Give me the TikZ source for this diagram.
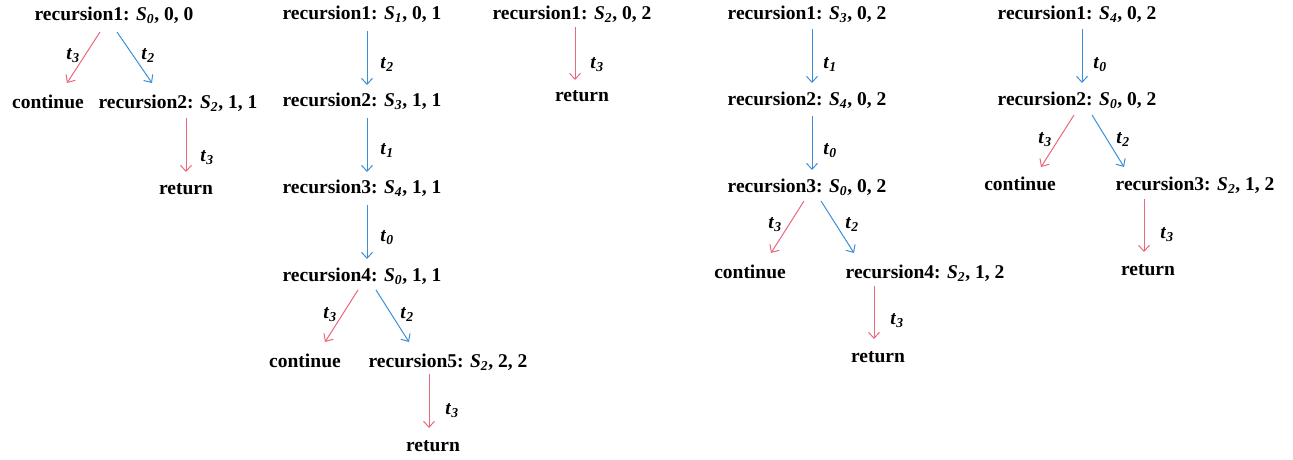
\documentclass[tikz,border=0pt]{standalone}
\usepackage{fontspec}
\setmainfont{Liberation Serif}
\usetikzlibrary{arrows.meta}
\definecolor{arrred}{RGB}{232,104,124}
\definecolor{arrblue}{RGB}{60,143,214}
\newcommand\Sv[1]{\textbf{\textit{S}\textsubscript{\textbf{\textit{#1}}}}}
\newcommand\tv[1]{\textbf{\textit{t}\textsubscript{\textbf{\textit{#1}}}}}
\newcommand\recn[4]{\textbf{recursion#1: }\Sv{#2}\textbf{, #3, #4}}
\begin{document}
\begin{tikzpicture}[x=1pt,y=-1pt,
  every node/.style={inner sep=0pt, font=\fontsize{19.5}{23}\selectfont\bfseries, text height=13pt, text depth=0pt, anchor=center},
  lab/.style={},
  redarr/.style={draw=arrred, line width=1pt, -{Straight Barb[length=6pt,width=11pt]}},
  bluearr/.style={draw=arrblue, line width=1pt, -{Straight Barb[length=6pt,width=11pt]}}]
\useasboundingbox (0,0) rectangle (1293,460);
% Tree 1
\node (A1) at (114,14) {\recn{1}{0}{0}{0}};
\node (A2) at (48,102) {continue};
\node (A3) at (178,102) {\recn{2}{2}{1}{1}};
\node (A4) at (186,188) {return};
\draw[redarr] ([shift={(-14,18)}]A1.center) -- ([shift={(19,-19)}]A2.center);
\draw[bluearr] ([shift={(3,18)}]A1.center) -- ([shift={(-26,-19)}]A3.center);
\draw[redarr] ([shift={(8,16)}]A3.center) -- ([shift={(0,-16)}]A4.center);
\node[lab] (A1l) at (73,53) {\tv{3}};
\node[lab] (A2l) at (148,53) {\tv{2}};
\node[lab] (A3l) at (207,155) {\tv{3}};
% Tree 2
\node (B1) at (362,13) {\recn{1}{1}{0}{1}};
\node (B2) at (362,100) {\recn{2}{3}{1}{1}};
\node (B3) at (362,187) {\recn{3}{4}{1}{1}};
\node (B4) at (362,275) {\recn{4}{0}{1}{1}};
\node (B5) at (305,361) {continue};
\node (B6) at (448,361) {\recn{5}{2}{2}{2}};
\node (B7) at (433,445) {return};
\draw[bluearr] ([shift={(5,18)}]B1.center) -- ([shift={(5,-15)}]B2.center);
\draw[bluearr] ([shift={(5,18)}]B2.center) -- ([shift={(5,-15)}]B3.center);
\draw[bluearr] ([shift={(5,18)}]B3.center) -- ([shift={(5,-16)}]B4.center);
\draw[redarr] ([shift={(-4,15)}]B4.center) -- ([shift={(20,-19)}]B5.center);
\draw[bluearr] ([shift={(14,15)}]B4.center) -- ([shift={(-39,-19)}]B6.center);
\draw[redarr] ([shift={(-19,13)}]B6.center) -- ([shift={(-4,-17)}]B7.center);
\node[lab] (B1l) at (387,62) {\tv{2}};
\node[lab] (B2l) at (387,148) {\tv{1}};
\node[lab] (B3l) at (387,235) {\tv{0}};
\node[lab] (B4l) at (330,312) {\tv{3}};
\node[lab] (B5l) at (407,312) {\tv{2}};
\node[lab] (B6l) at (452,408) {\tv{3}};
% Tree 3
\node (C1) at (572,13) {\recn{1}{2}{0}{2}};
\node (C2) at (582,95) {return};
\draw[redarr] ([shift={(3,14)}]C1.center) -- ([shift={(-7,-15)}]C2.center);
\node[lab] (C1l) at (597,62) {\tv{3}};
% Tree 4
\node (D1) at (807,13) {\recn{1}{3}{0}{2}};
\node (D2) at (807,99) {\recn{2}{4}{0}{2}};
\node (D3) at (807,186) {\recn{3}{0}{0}{2}};
\node (D4) at (750,272) {continue};
\node (D5) at (925,272) {\recn{4}{2}{1}{2}};
\node (D6) at (878,356) {return};
\draw[bluearr] ([shift={(5,16)}]D1.center) -- ([shift={(5,-16)}]D2.center);
\draw[bluearr] ([shift={(5,17)}]D2.center) -- ([shift={(5,-16)}]D3.center);
\draw[redarr] ([shift={(-3,15)}]D3.center) -- ([shift={(21,-19)}]D4.center);
\draw[bluearr] ([shift={(14,15)}]D3.center) -- ([shift={(-71,-19)}]D5.center);
\draw[redarr] ([shift={(-51,14)}]D5.center) -- ([shift={(-4,-17)}]D6.center);
\node[lab] (D1l) at (830,62) {\tv{1}};
\node[lab] (D2l) at (830,148) {\tv{0}};
\node[lab] (D3l) at (775,222) {\tv{3}};
\node[lab] (D4l) at (852,222) {\tv{2}};
\node[lab] (D5l) at (897,318) {\tv{3}};
% Tree 5
\node (E1) at (1077,13) {\recn{1}{4}{0}{2}};
\node (E2) at (1077,99) {\recn{2}{0}{0}{2}};
\node (E3) at (1020,184) {continue};
\node (E4) at (1195,184) {\recn{3}{2}{1}{2}};
\node (E5) at (1148,269) {return};
\draw[bluearr] ([shift={(5,16)}]E1.center) -- ([shift={(5,-16)}]E2.center);
\draw[redarr] ([shift={(-3,16)}]E2.center) -- ([shift={(21,-17)}]E3.center);
\draw[bluearr] ([shift={(15,16)}]E2.center) -- ([shift={(-71,-17)}]E4.center);
\draw[redarr] ([shift={(-51,15)}]E4.center) -- ([shift={(-4,-17)}]E5.center);
\node[lab] (E1l) at (1100,62) {\tv{0}};
\node[lab] (E2l) at (1045,137) {\tv{3}};
\node[lab] (E3l) at (1123,137) {\tv{2}};
\node[lab] (E4l) at (1167,232) {\tv{3}};
\end{tikzpicture}
\end{document}
